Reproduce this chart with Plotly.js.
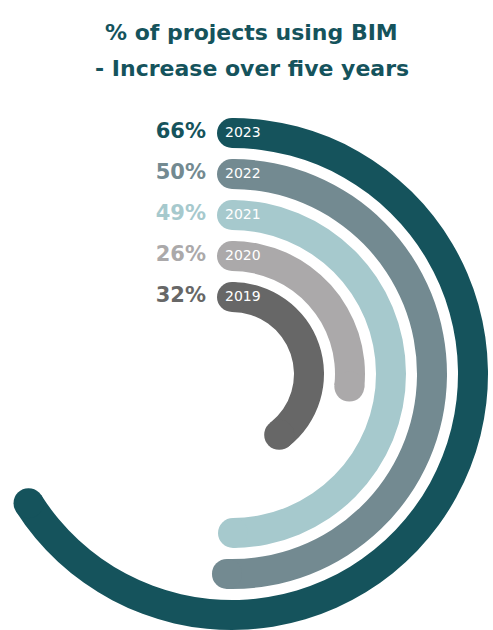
<!DOCTYPE html>
<html>
<head>
<meta charset="utf-8">
<script src="https://cdn.plot.ly/plotly-3.0.1.min.js"></script>
<style>
  html, body { margin: 0; padding: 0; overflow: hidden; background: #ffffff; width: 493px; height: 630px; }
  #chart { position: absolute; left: -40px; top: 0; width: 540px; height: 660px; }
</style>
</head>
<body>
<div id="chart"></div>
<script>
// ---- data ----
const years = ['2023', '2022', '2021', '2020', '2019'];
const shareLabels = ['66%', '50%', '49%', '26%', '32%'];
// arc length of each ring as drawn, in % of a full circle
const arcShare = [66, 50.4, 49.9, 26.7, 39.5];
const ringColors = ['#15535c', '#738a91', '#a6c9cd', '#aba9aa', '#676767'];
const titleLines = ['% of projects using BIM', '- Increase over five years'];

// ---- style ----
const OUTER = 241, STEP = 41, THICK = 30;
const FONT = 'DejaVu Sans';
const traces = [];

years.forEach((yr, i) => {
  const rad = OUTER - STEP * i;
  const deg = arcShare[i] * 3.6;
  traces.push({
    type: 'barpolar',
    r: [THICK], base: [rad - THICK / 2],
    theta: [deg / 2], width: [deg],
    marker: { color: ringColors[i], line: { width: 0 } },
    hoverinfo: 'skip'
  });
  traces.push({
    type: 'scatterpolar', mode: 'markers',
    r: [rad, rad], theta: [0, deg],
    marker: { size: THICK, color: ringColors[i], line: { width: 0 } },
    hoverinfo: 'skip', cliponaxis: false
  });
  traces.push({
    type: 'scatterpolar', mode: 'text',
    r: [rad], theta: [-Math.atan(7 / rad) * 180 / Math.PI],
    text: [yr], textposition: 'middle right',
    textfont: { family: FONT, size: 14, color: '#ffffff' },
    hoverinfo: 'skip', cliponaxis: false
  });
  traces.push({
    type: 'scatterpolar', mode: 'markers+text',
    r: [rad], theta: [0],
    text: [shareLabels[i]], textposition: 'middle left',
    marker: { size: 40, opacity: 0 },
    textfont: { family: FONT, size: 21, color: ringColors[i], weight: 'bold' },
    hoverinfo: 'skip', cliponaxis: false
  });
});

const W = 540, H = 660, SHIFT = 40;
const layout = {
  width: W, height: H,
  margin: { l: 0, r: 0, t: 0, b: 0, pad: 0 },
  paper_bgcolor: '#ffffff',
  showlegend: false,
  polar: {
    domain: { x: [7 / W, 537 / W], y: [1 - 639 / H, 1 - 109 / H] },
    bgcolor: 'rgba(0,0,0,0)',
    radialaxis: { range: [0, 265], visible: false },
    angularaxis: { rotation: 90, direction: 'clockwise', visible: false }
  },
  annotations: titleLines.map((t, k) => ({
    text: t, showarrow: false,
    xref: 'paper', yref: 'paper',
    x: (251.5 + SHIFT) / W, y: 1 - [32.5, 69][k] / H,
    xanchor: 'center', yanchor: 'middle',
    font: { family: FONT, size: 22, color: '#15535c', weight: 'bold' }
  }))
};

Plotly.newPlot('chart', traces, layout, { displayModeBar: false, staticPlot: true });
</script>
</body>
</html>
